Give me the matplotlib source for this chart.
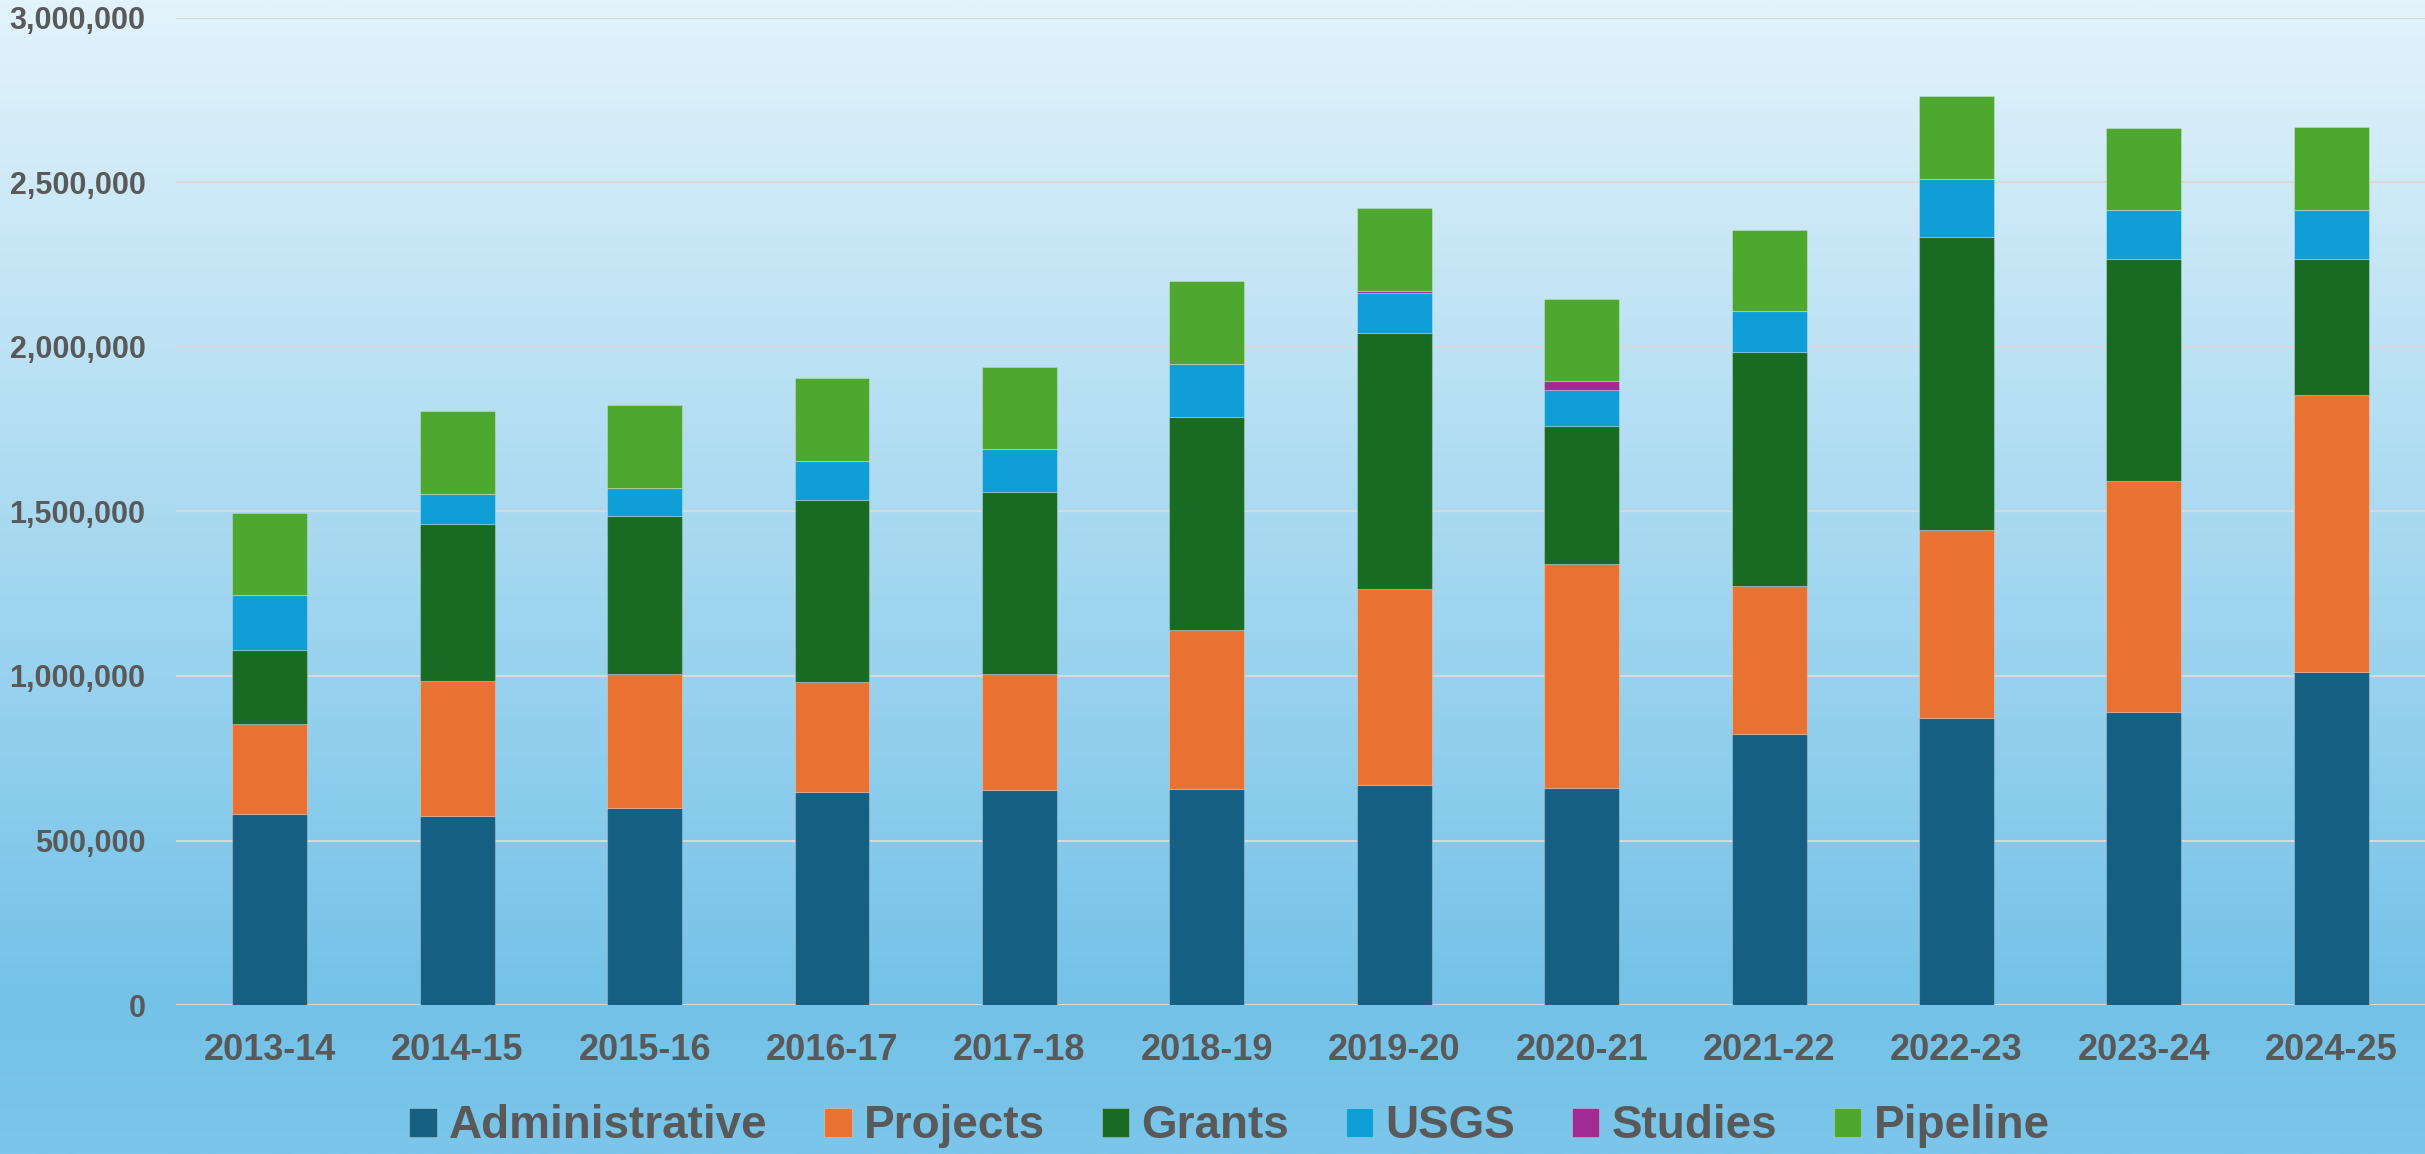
import numpy as np
import matplotlib
matplotlib.use("Agg")
import matplotlib.pyplot as plt
from matplotlib.colors import LinearSegmentedColormap
from matplotlib.ticker import FuncFormatter

years = ["2013-14", "2014-15", "2015-16", "2016-17", "2017-18", "2018-19",
         "2019-20", "2020-21", "2021-22", "2022-23", "2023-24", "2024-25"]
administrative = [581000, 575000, 599000, 646000, 653000, 657000, 668000, 660000, 823000, 872000, 890000, 1013000]
projects = [273000, 409000, 407000, 335000, 353000, 483000, 597000, 679000, 451000, 572000, 702000, 840000]
grants = [226000, 478000, 481000, 555000, 552000, 646000, 778000, 420000, 709000, 890000, 675000, 414000]
usgs = [167000, 92000, 85000, 118000, 132000, 161000, 119000, 110000, 125000, 177000, 148000, 150000]
studies = [0, 0, 0, 0, 0, 0, 9000, 27000, 0, 0, 0, 0]
pipeline = [249000, 250000, 250000, 251000, 248000, 253000, 250000, 248000, 248000, 250000, 250000, 250000]

series_names = ["Administrative", "Projects", "Grants", "USGS", "Studies", "Pipeline"]
series_values = [administrative, projects, grants, usgs, studies, pipeline]
colors = ["#156082", "#E97132", "#196B24", "#0F9ED5", "#A02B93", "#4EA72E"]

plt.rcParams['font.family'] = ['Liberation Sans', 'DejaVu Sans']
text_color = "#595959"

fig = plt.figure(figsize=(24.25, 11.54), dpi=100)

# gradient background
bg = fig.add_axes([0, 0, 1, 1], zorder=0)
cmap = LinearSegmentedColormap.from_list("bg", [(0.0, "#E3F3FB"), (0.87, "#74C2E8"), (1.0, "#7BC6EA")])
grad = np.linspace(0, 1, 512).reshape(-1, 1)
bg.imshow(grad, aspect="auto", cmap=cmap, extent=[0, 1, 1, 0])
bg.set_axis_off()

ax = fig.add_axes([0.0726, 0.129, 0.9274, 0.8557], zorder=1)
ax.set_facecolor("none")

x = np.arange(len(years))
bottom = np.zeros(len(years))
handles = []
for name, vals, c in zip(series_names, series_values, colors):
    vals = np.array(vals, dtype=float)
    b = ax.bar(x, vals, width=0.40, bottom=bottom, color=c, label=name,
               edgecolor=(1, 1, 1, 0.25), linewidth=0.8, zorder=3)
    handles.append(b)
    bottom += vals

ax.set_xlim(-0.5, len(years) - 0.5)
ax.set_ylim(0, 3000000)
ax.set_yticks(np.arange(0, 3000001, 500000))
ax.yaxis.set_major_formatter(FuncFormatter(lambda v, p: f"{int(v):,}"))
ax.set_xticks(x)
ax.set_xticklabels(years)

ax.grid(axis="y", color="#D9D9D9", linewidth=1.5, zorder=0)
ax.set_axisbelow(True)
for s in ax.spines.values():
    s.set_visible(False)
ax.tick_params(axis="both", length=0)
ax.tick_params(axis="y", pad=22, labelsize=22, labelcolor=text_color)
ax.tick_params(axis="x", pad=20, labelsize=26, labelcolor=text_color)
for lab in ax.get_yticklabels() + ax.get_xticklabels():
    lab.set_fontweight("bold")

leg = fig.legend(handles=handles, labels=series_names, loc="center",
                 bbox_to_anchor=(0.507, 0.024), ncol=6, frameon=False,
                 prop={"size": 33, "weight": "bold"}, handlelength=0.6,
                 handleheight=0.6, handletextpad=0.27, columnspacing=1.23,
                 borderpad=0)
for t in leg.get_texts():
    t.set_color(text_color)

fig.savefig("out.png", dpi=100)
